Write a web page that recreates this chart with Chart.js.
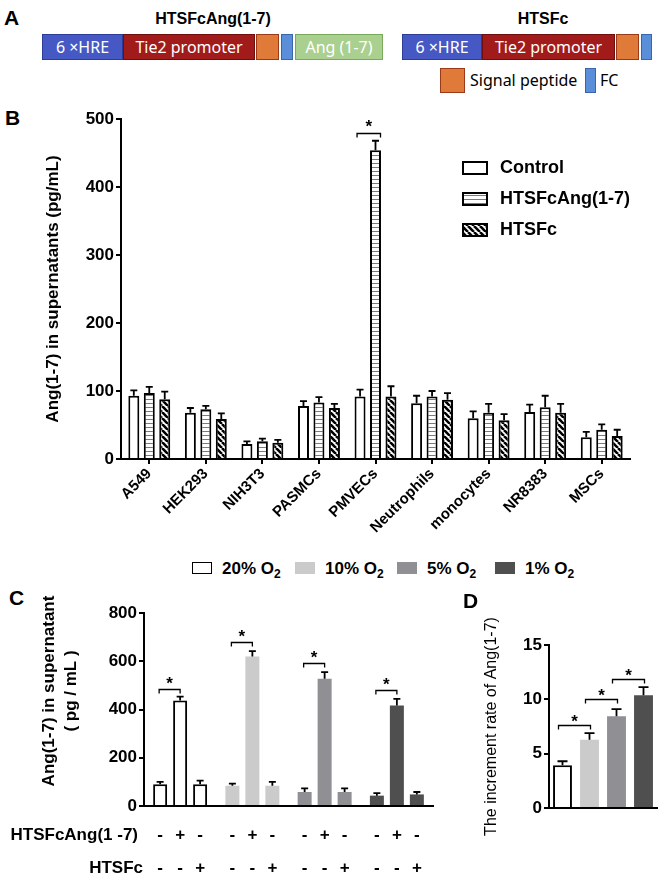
<!DOCTYPE html>
<html><head><meta charset="utf-8">
<script src="https://cdn.jsdelivr.net/npm/chart.js@4"></script>
<style>
body{margin:0;width:660px;height:875px;position:relative;background:#fff;font-family:"Liberation Sans",Arial,sans-serif;overflow:hidden;color:#000}
.abs{position:absolute;white-space:nowrap}
.let{font-weight:bold;font-size:21px;line-height:21px}
.ttl{font-weight:bold;font-size:16px;line-height:18px;transform:translateX(-50%)}
.box{position:absolute;top:34px;height:26px;box-sizing:border-box;color:#fff;font-family:"Noto Sans",sans-serif;font-size:16px;display:flex;align-items:center;justify-content:center;white-space:nowrap;border:1px solid}
.hre{background:#4658c4;border-color:#2c3b96}
.tie{background:#a11b1b;border-color:#6f0d0d}
.sig{background:#e07a38;border-color:#9a3a18}
.fc{background:#5b8ed9;border-color:#3766ad}
.ang{background:#a9d08e;border-color:#7aa95c}
.lg{position:absolute;top:562px;font-weight:bold;font-size:17px;line-height:14px}
.sw{position:absolute;top:562px;width:20px;height:12px;box-sizing:border-box}
canvas{position:absolute}
</style></head><body>
<!-- Panel A -->
<div class="abs let" style="left:4px;top:7px">A</div>
<div class="abs ttl" style="left:213px;top:10px">HTSFcAng(1-7)</div>
<div class="abs ttl" style="left:543px;top:10px">HTSFc</div>
<div class="box hre" style="left:42px;width:81px">6 ×HRE</div>
<div class="box tie" style="left:123px;width:132px">Tie2 promoter</div>
<div class="box sig" style="left:256px;width:23px"></div>
<div class="box fc" style="left:281px;width:12px"></div>
<div class="box ang" style="left:295px;width:88px">Ang (1-7)</div>
<div class="box hre" style="left:402px;width:80px">6 ×HRE</div>
<div class="box tie" style="left:482px;width:133px">Tie2 promoter</div>
<div class="box sig" style="left:616px;width:23px"></div>
<div class="box fc" style="left:641px;width:11px"></div>
<div class="box sig" style="left:440px;top:68px;width:25px;height:25px"></div>
<div class="abs" style="left:470px;top:71px;font-family:'Noto Sans',sans-serif;font-size:16px;line-height:19px">Signal peptide</div>
<div class="box fc" style="left:585px;top:68px;width:11px;height:25px"></div>
<div class="abs" style="left:600px;top:71px;font-family:'Noto Sans',sans-serif;font-size:16px;line-height:19px">FC</div>

<div class="abs let" style="left:5px;top:107px">B</div>
<div class="abs let" style="left:9px;top:587px">C</div>

<!-- shared legend C/D -->
<div class="sw" style="left:192px;background:#fff;border:1.5px solid #000"></div>
<div class="lg" style="left:222px">20% O<sub style="font-size:12px">2</sub></div>
<div class="sw" style="left:295px;background:#cbcbcb"></div>
<div class="lg" style="left:325px">10% O<sub style="font-size:12px">2</sub></div>
<div class="sw" style="left:397px;background:#8f8f94"></div>
<div class="lg" style="left:427px">5% O<sub style="font-size:12px">2</sub></div>
<div class="sw" style="left:495px;background:#4f4f4f"></div>
<div class="lg" style="left:525px">1% O<sub style="font-size:12px">2</sub></div>

<canvas id="cb" width="660" height="440" style="left:0;top:100px"></canvas>
<canvas id="cc" width="440" height="285" style="left:0;top:590px"></canvas>
<canvas id="cd" width="220" height="250" style="left:440px;top:600px"></canvas>
<div class="abs let" style="left:463px;top:590px">D</div>
<script>
// ---------- DATA ----------
const bCategories = ['A549','HEK293','NIH3T3','PASMCs','PMVECs','Neutrophils','monocytes','NR8383','MSCs'];
const bSeriesNames = ['Control','HTSFcAng(1-7)','HTSFc'];
const bControl    = [93, 68, 22, 78, 92, 82, 60, 69, 32];
const bControlErr = [ 8,  7,  4,  7, 10, 11, 10, 11,  8];
const bAng        = [97, 73, 26, 83, 454, 92, 68, 76, 43];
const bAngErr     = [ 9,  5,  4,  8, 14,  8, 13, 17,  8];
const bFc         = [88, 59, 24, 75, 92, 87, 57, 68, 34];
const bFcErr      = [11,  8,  4,  6, 15, 10,  9, 13,  9];
const bTicks = [0,100,200,300,400,500];
const bSigLevel = [479];

const cGroups = ['20% O2','10% O2','5% O2','1% O2'];
const cControl    = [90, 84, 58, 43];
const cControlErr = [10,  9, 15, 10];
const cAng        = [437, 620, 527, 417];
const cAngErr     = [16, 22, 28, 27];
const cFc         = [90, 84, 58, 48];
const cFcErr      = [15, 16, 15, 10];
const cTicks = [0,200,400,600,800];
const cSigLevel = [486, 680, 591, 479];
const cRowLabels = ['HTSFcAng(1 -7)','HTSFc'];
const cAngSigns = ['-','+','-'];
const cFcSigns  = ['-','-','+'];

const dGroups = ['20% O2','10% O2','5% O2','1% O2'];
const dRate    = [3.93, 6.29, 8.44, 10.37];
const dRateErr = [0.37, 0.60, 0.66, 0.76];
const dTicks = [0,5,10,15];
const dSigLevel = [7.6, 10.0, 11.9];

const o2Colors = ['#ffffff','#cbcbcb','#8f8f94','#4f4f4f'];
const FONT = '"Liberation Sans", Arial, sans-serif';

// ---------- patterns ----------
function hLines(){const c=document.createElement('canvas');c.width=4;c.height=4;const x=c.getContext('2d');x.fillStyle='#fff';x.fillRect(0,0,4,4);x.fillStyle='#7a7a7a';x.fillRect(0,3,4,1);return x.createPattern(c,'repeat');}
function diag(){const s=6;const c=document.createElement('canvas');c.width=s;c.height=s;const x=c.getContext('2d');x.fillStyle='#fff';x.fillRect(0,0,s,s);x.strokeStyle='#000';x.lineWidth=2.6;x.beginPath();for(const o of [-s,0,s]){x.moveTo(o,0);x.lineTo(o+s,s);}x.stroke();return x.createPattern(c,'repeat');}
const patH = hLines(), patD = diag();

// ---------- plugins ----------
const errPlugin = {id:'errbars', afterDatasetsDraw(chart,args,o){
  const ctx=chart.ctx, ys=chart.scales.y; ctx.save(); ctx.strokeStyle='#000'; ctx.lineWidth=o.lw||1.8;
  chart.data.datasets.forEach((ds,i)=>{ if(!ds.err) return;
    chart.getDatasetMeta(i).data.forEach((el,j)=>{
      const yt=ys.getPixelForValue(ds.data[j]+ds.err[j]);
      ctx.beginPath(); ctx.moveTo(el.x,el.y); ctx.lineTo(el.x,yt);
      ctx.moveTo(el.x-o.cap,yt); ctx.lineTo(el.x+o.cap,yt); ctx.stroke();
    });
  }); ctx.restore();
}};
const sigPlugin = {id:'sig', afterDatasetsDraw(chart,args,o){
  if(!o.pairs) return; const ctx=chart.ctx, ys=chart.scales.y;
  ctx.save(); ctx.strokeStyle='#000'; ctx.fillStyle='#000'; ctx.lineWidth=1.3;
  ctx.font='bold '+o.fs+'px '+FONT; ctx.textAlign='center'; ctx.textBaseline='alphabetic';
  o.pairs.forEach(p=>{
    const a=chart.getDatasetMeta(p[0]).data[p[1]], b=chart.getDatasetMeta(p[2]).data[p[3]];
    const x1=a.x+o.dx1, x2=b.x+o.dx2, y=Math.round(ys.getPixelForValue(p[4]))+0.5;
    ctx.beginPath(); ctx.moveTo(x1,y+o.tick); ctx.lineTo(x1,y); ctx.lineTo(x2,y); ctx.lineTo(x2,y+o.tick); ctx.stroke();
    ctx.fillText('*',(x1+x2)/2,y+o.starDy);
  }); ctx.restore();
}};
const bLegendPlugin = {id:'bLegend', afterDraw(chart,args,o){
  if(!o.show) return; const ctx=chart.ctx; ctx.save();
  chart.data.datasets.forEach((ds,i)=>{
    const y=o.y0+i*o.dy;
    ctx.fillStyle=ds.backgroundColor; ctx.fillRect(o.x,y-6,24,12);
    ctx.strokeStyle='#000'; ctx.lineWidth=2; ctx.strokeRect(o.x,y-6,24,12);
    ctx.fillStyle='#000'; ctx.font='bold 18px '+FONT; ctx.textAlign='left'; ctx.textBaseline='middle';
    ctx.fillText(ds.label,o.x+37,y);
  }); ctx.restore();
}};
const cExtrasPlugin = {id:'cExtras', afterDraw(chart,args,o){
  if(!o.show) return; const ctx=chart.ctx; ctx.save(); ctx.fillStyle='#000';
  ctx.font='bold 17px '+FONT; ctx.textBaseline='middle';
  const rows=[cAngSigns,cFcSigns];
  cRowLabels.forEach((lab,r)=>{
    const y=chart.chartArea.bottom+o.dy[r];
    ctx.textAlign='right'; ctx.fillText(lab,o.lx[r],y);
    ctx.textAlign='center';
    chart.data.datasets.forEach((ds,i)=>chart.getDatasetMeta(i).data.forEach(el=>ctx.fillText(rows[r][i],el.x,y)));
  });
  ctx.save(); ctx.translate(o.tx, o.ty); ctx.rotate(-Math.PI/2); ctx.textAlign='center';
  ctx.font='bold 17px '+FONT;
  ctx.fillText('Ang(1-7) in supernatant',0,0);
  ctx.fillText('( pg / mL )',0,22);
  ctx.restore();
  ctx.restore();
}};
Chart.register(errPlugin, sigPlugin, bLegendPlugin, cExtrasPlugin);

function yAxis(ticks, width, title){
  return {
    min:ticks[0], max:ticks[ticks.length-1],
    afterBuildTicks:(s)=>{s.ticks=ticks.map(v=>({value:v}));},
    afterFit:(s)=>{s.width=width;},
    border:{display:true,color:'#000',width:2},
    grid:{display:true,drawOnChartArea:false,drawTicks:true,tickLength:5,color:'#000',lineWidth:2},
    ticks:{color:'#000',font:{family:FONT,size:17,weight:'bold'},padding:2},
    title:title
  };
}

// ---------- Panel B ----------
new Chart(document.getElementById('cb'), {
  type:'bar',
  data:{labels:bCategories, datasets:[
    {label:bSeriesNames[0], data:bControl, err:bControlErr, backgroundColor:'#fff'},
    {label:bSeriesNames[1], data:bAng, err:bAngErr, backgroundColor:patH},
    {label:bSeriesNames[2], data:bFc, err:bFcErr, backgroundColor:patD}
  ].map(d=>Object.assign(d,{borderColor:'#000',borderWidth:2,categoryPercentage:0.82,barPercentage:0.71}))},
  options:{
    responsive:false, animation:false, devicePixelRatio:1,
    layout:{padding:{top:19,right:30,left:0,bottom:0}},
    plugins:{legend:{display:false},tooltip:{enabled:false},
      errbars:{cap:3.5,lw:1.8},
      sig:{pairs:[[0,4,1,4,bSigLevel[0]]],dx1:-3,dx2:5,tick:4,fs:17,starDy:-2},
      bLegend:{show:true,x:463,y0:68,dy:31}},
    scales:{
      x:{offset:true, afterFit:(s)=>{s.height=81;},
        border:{display:true,color:'#000',width:2},
        grid:{display:true,offset:false,drawOnChartArea:false,drawTicks:true,tickLength:5,color:'#000',lineWidth:2},
        ticks:{color:'#000',font:{family:FONT,size:15,weight:'bold'},minRotation:45,maxRotation:45,autoSkip:false,padding:1}},
      y:yAxis(bTicks,121,{display:true,text:'Ang(1-7) in supernatants (pg/mL)',color:'#000',font:{family:FONT,size:17,weight:'bold'},padding:{top:43,bottom:0}})
    }
  }
});

// ---------- Panel C ----------
new Chart(document.getElementById('cc'), {
  type:'bar',
  data:{labels:cGroups, datasets:[
    {label:'Control', data:cControl, err:cControlErr},
    {label:'HTSFcAng(1-7)', data:cAng, err:cAngErr},
    {label:'HTSFc', data:cFc, err:cFcErr}
  ].map(d=>Object.assign(d,{backgroundColor:o2Colors,borderColor:'#000',borderWidth:[2,0,0,0],categoryPercentage:0.83,barPercentage:0.7}))},
  options:{
    responsive:false, animation:false, devicePixelRatio:1,
    layout:{padding:{top:23,right:7,left:0,bottom:0}},
    plugins:{legend:{display:false},tooltip:{enabled:false},
      errbars:{cap:3.5,lw:1.8},
      sig:{pairs:cSigLevel.map((v,g)=>[0,g,1,g,v]),dx1:-1,dx2:0,tick:4,fs:17,starDy:-1},
      cExtras:{show:true,dy:[29,62],lx:[138,143],tx:49,ty:101}},
    scales:{
      x:{offset:true, afterFit:(s)=>{s.height=69;},
        border:{display:true,color:'#000',width:2},
        grid:{display:false}, ticks:{display:false}},
      y:yAxis(cTicks,144,{display:false})
    }
  }
});

// ---------- Panel D ----------
new Chart(document.getElementById('cd'), {
  type:'bar',
  data:{labels:dGroups, datasets:[
    {label:'Increment rate', data:dRate, err:dRateErr, backgroundColor:o2Colors, borderColor:'#000', borderWidth:[2,0,0,0], categoryPercentage:1, barPercentage:0.7}
  ]},
  options:{
    responsive:false, animation:false, devicePixelRatio:1,
    layout:{padding:{top:45,right:3,left:0,bottom:0}},
    plugins:{legend:{display:false},tooltip:{enabled:false},
      errbars:{cap:5,lw:1.8},
      sig:{pairs:dSigLevel.map((v,i)=>[0,i,0,i+1,v]),dx1:-4,dx2:1,tick:4,fs:17,starDy:1}},
    scales:{
      x:{offset:true, afterFit:(s)=>{s.height=42;},
        border:{display:true,color:'#000',width:2},
        grid:{display:false}, ticks:{display:false}},
      y:yAxis(dTicks,109,{display:true,text:'The increment rate of Ang(1-7)',color:'#000',font:{family:FONT,size:16,weight:'normal'},padding:{top:42,bottom:0}})
    }
  }
});
</script>
</body></html>
